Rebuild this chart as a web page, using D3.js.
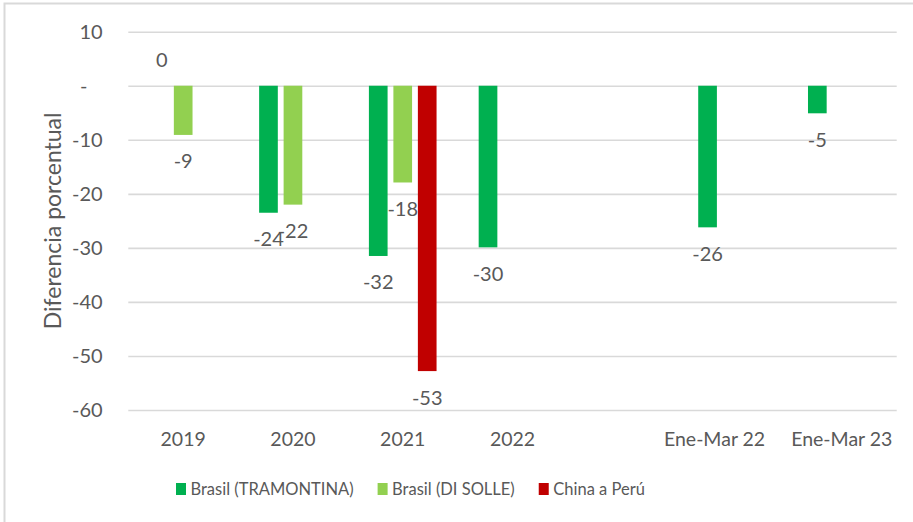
<!DOCTYPE html>
<html>
<head>
<meta charset="utf-8">
<script src="https://cdn.jsdelivr.net/npm/d3@7"></script>
<style>
  html, body { margin: 0; padding: 0; background: #fff; }
  svg { display: block; }
  text { font-family: "Lato", "Liberation Sans", sans-serif; fill: #595959; }
</style>
</head>
<body>
<svg id="chart" width="913" height="522"></svg>
<script>
// ---- data ----
const categories = ["2019", "2020", "2021", "2022", "", "Ene-Mar 22\u00A0\u00A0\u00A0\u00A0\u00A0\u00A0\u00A0", "Ene-Mar 23"];
const seriesNames = ["Brasil (TRAMONTINA)", "Brasil (DI SOLLE)", "China a Perú"];
const tramontina = [0, -23.5, -31.5, -29.9, null, -26.2, -5.1];
const diSolle = [-9.1, -22.0, -17.9, null, null, null, null];
const chinaPeru = [null, null, -52.8, null, null, null, null];
const seriesColors = ["#00B050", "#92D050", "#C00000"];
const yTicks = [10, 0, -10, -20, -30, -40, -50, -60];
const yTickLabels = ["10", "-\u00A0\u00A0\u00A0", "-10", "-20", "-30", "-40", "-50", "-60"];
const yTitle = "Diferencia porcentual";

const seriesValues = [tramontina, diSolle, chinaPeru];

// ---- layout ----
const svg = d3.select("#chart");
const plotLeft = 128.3, plotRight = 896.7, plotTop = 31.7, plotBottom = 410;
const FONT = "Lato, 'Liberation Sans', sans-serif";

// frame
svg.append("rect")
  .attr("x", 4.5).attr("y", 3.5).attr("width", 930).attr("height", 540)
  .attr("fill", "none").attr("stroke", "#d9d9d9").attr("stroke-width", 2);

const x0 = d3.scaleBand().domain(d3.range(categories.length)).range([plotLeft, plotRight]).paddingInner(0).paddingOuter(0);
const x1 = d3.scaleBand().domain(d3.range(seriesNames.length)).range([0, x0.bandwidth()]).paddingInner(0.237).paddingOuter(0.86);
const y = d3.scaleLinear().domain([-60, 10]).range([plotBottom, plotTop]);

// y axis with gridlines
const yAxis = d3.axisLeft(y)
  .tickValues(yTicks)
  .tickFormat((d, i) => yTickLabels[i])
  .tickSizeInner(-(plotRight - plotLeft))
  .tickSizeOuter(0)
  .tickPadding(25.6);
const gy = svg.append("g").attr("transform", `translate(${plotLeft},0)`).call(yAxis);
gy.select(".domain").remove();
gy.selectAll(".tick line").attr("stroke", "#d9d9d9").attr("stroke-width", 1.6);
gy.selectAll(".tick text").attr("font-size", 20).attr("fill", "#595959").style("font-family", FONT);

// x axis labels
const xAxis = d3.axisBottom(x0).tickFormat(i => categories[i]).tickSize(0).tickPadding(22.5);
const gx = svg.append("g").attr("transform", `translate(0,${plotBottom})`).call(xAxis);
gx.select(".domain").remove();
gx.selectAll(".tick text").attr("font-size", 19.5).attr("fill", "#595959").style("font-family", FONT);

// bars
const barData = [];
seriesValues.forEach((vals, s) => {
  vals.forEach((v, c) => { if (v !== null) barData.push({ s, c, v }); });
});

svg.append("g").selectAll("rect").data(barData).join("rect")
  .attr("x", d => x0(d.c) + x1(d.s))
  .attr("width", x1.bandwidth())
  .attr("y", d => Math.min(y(d.v), y(0)))
  .attr("height", d => Math.abs(y(d.v) - y(0)))
  .attr("fill", d => seriesColors[d.s]);

// data labels
const fmt = v => { const s = v.toFixed(0); return s === "-0" ? "0" : s; };
svg.append("g").selectAll("text").data(barData).join("text")
  .attr("x", d => x0(d.c) + x1(d.s) + x1.bandwidth() / 2 + (d.v >= 0 ? 3 : 0))
  .attr("y", d => d.v < 0 ? y(d.v) + 26.5 : y(d.v) - 25.5)
  .attr("dy", "0.35em")
  .attr("text-anchor", "middle")
  .attr("font-size", 20)
  .text(d => fmt(d.v));

// y axis title
svg.append("text")
  .attr("transform", `translate(53,${(plotTop + plotBottom) / 2}) rotate(-90)`)
  .attr("text-anchor", "middle")
  .attr("dy", "0.35em")
  .attr("font-size", 23)
  .text(yTitle);

// legend
const legend = svg.append("g").attr("transform", "translate(176,489)");
let lx = 0;
seriesNames.forEach((name, i) => {
  const g = legend.append("g").attr("transform", `translate(${lx},0)`);
  g.append("rect").attr("x", 0).attr("y", -6).attr("width", 10).attr("height", 12).attr("fill", seriesColors[i]);
  const t = g.append("text").attr("x", 14.5).attr("dy", "0.35em").attr("font-size", 16.5).text(name);
  lx += 14.5 + t.node().getComputedTextLength() + 24;
});
</script>
</body>
</html>
